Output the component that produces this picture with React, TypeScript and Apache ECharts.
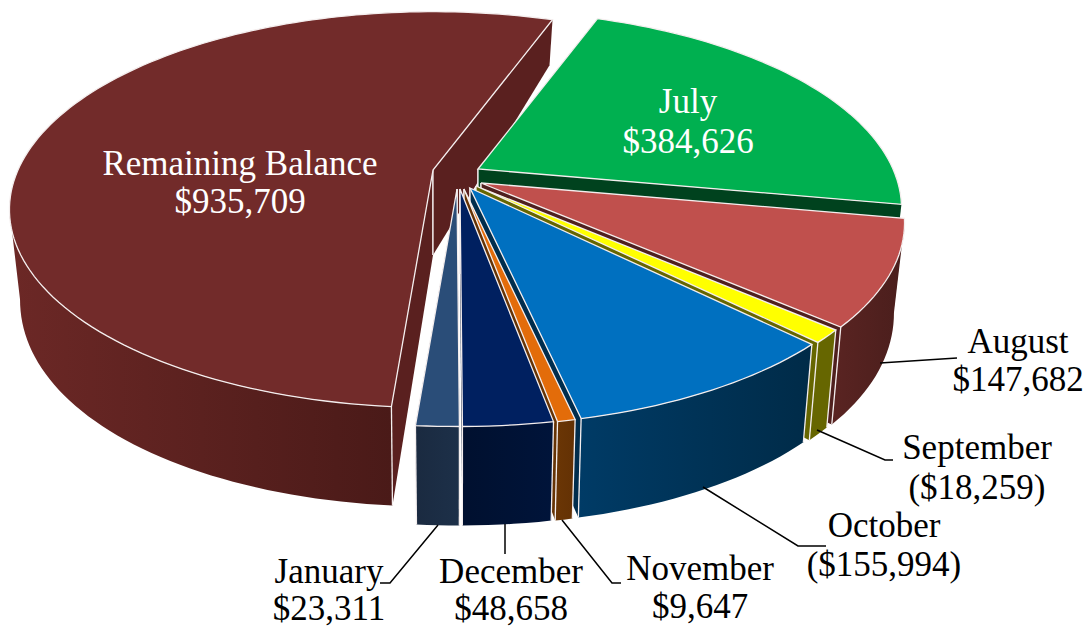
import React, { useEffect, useRef } from "react";
import * as echarts from "echarts";

// ---- data (clockwise, starting at the first slice drawn) ----
const categories = ["Remaining Balance", "July", "August", "September", "October", "November", "December", "January"];
const sliceValues = [935709, 384626, 147682, 18259, 155994, 9647, 48658, 23311];
const valueLabels = ["$935,709", "$384,626", "$147,682", "($18,259)", "($155,994)", "$9,647", "$48,658", "$23,311"];

// ---- styles & layout ----
const topColors = ["#722B2A", "#00B050", "#C0504D", "#FFFF00", "#0070C0", "#E36C0A", "#002060", "#2A4D78"];
const faceColors = ["#5A201F", "#00421E", "#4F201E", "#666600", "#002D4D", "#663304", "#00102F", "#1A2A40"];
const wallLeft = ["#6C2826", "#00421E", "#5A2422", "#666600", "#003B66", "#6B3605", "#00102F", "#1A2A40"];
const wallRight = ["#4A1A18", "#00421E", "#4A1E1C", "#666600", "#002B48", "#633104", "#00143A", "#1D3049"];
const sliceOffsets = [
  [433, 170], [478, 169], [481, 183], [476, 186], [470, 188], [464, 189], [460, 189], [457, 189],
];
const START_DEG = 184.6;
const RX = 415, RY = 190, PERSP = 0.2;
const BOTTOM_SHRINK = 0.975;
const WALL_FROM = 101.5, WALL_TO = 258.5; // where the rim is widest on screen
const wallHeight = (v: number) => 85 + 28.4 * v - 14.4 * v * v;

const total = sliceValues.reduce((a, b) => a + b, 0);
const rad = (d: number) => (d * Math.PI) / 180;

function renderSlice(params: any, api: any) {
  const i = params.dataIndex;
  const value = api.value(0);
  let before = 0;
  for (let k = 0; k < i; k++) before += sliceValues[k];
  let a0 = START_DEG + (before / total) * 360;
  if (a0 >= 360) a0 -= 360;
  const a1 = a0 + (value / total) * 360;
  const [ax, ay] = sliceOffsets[i];

  const rim = (deg: number) => {
    const u = Math.sin(rad(deg));
    const v = -Math.cos(rad(deg));
    const s = 1 / (1 - PERSP * v);
    return { x: ax + RX * u * s, y: ay + RY * v * s, v };
  };
  const low = (deg: number) => {
    const p = rim(deg);
    return [ax + (p.x - ax) * BOTTOM_SHRINK, p.y + wallHeight(p.v)];
  };
  const arc = (from: number, to: number, f: (d: number) => number[]) => {
    const n = Math.max(2, Math.ceil(Math.abs(to - from) / 1.5));
    const out: number[][] = [];
    for (let k = 0; k <= n; k++) out.push(f(from + ((to - from) * k) / n));
    return out;
  };
  const rimPt = (d: number) => { const p = rim(d); return [p.x, p.y]; };
  const apex = [ax, ay];
  const apexLow = [ax, ay + wallHeight(0)];
  const white = { stroke: "#f4eeee", lineWidth: 1.3 };
  const children: any[] = [];

  const face = (deg: number) => {
    children.push({
      type: "polygon",
      shape: { points: [apex, rimPt(deg), low(deg), apexLow] },
      style: { fill: faceColors[i] },
    });
    children.push({
      type: "polyline",
      shape: { points: [apexLow, apex] },
      style: { fill: "none", ...white },
    });
  };
  face(a0);
  face(a1);

  // outer wall: only the part that turns to the viewer
  const w0 = Math.max(a0, WALL_FROM);
  const w1 = Math.min(a1, WALL_TO);
  if (w1 > w0) {
    children.push({
      type: "polygon",
      shape: { points: [...arc(w0, w1, rimPt), ...arc(w1, w0, low)] },
      style: {
        fill: new echarts.graphic.LinearGradient(0, 0, 1, 0, [
          { offset: 0, color: wallLeft[i] },
          { offset: 1, color: wallRight[i] },
        ]),
      },
    });
    [w0, w1].forEach((d) => {
      if (d === a0 || d === a1) {
        children.push({
          type: "polyline",
          shape: { points: [rimPt(d), low(d)] },
          style: { fill: "none", ...white },
        });
      }
    });
  }

  // top surface
  children.push({
    type: "polygon",
    shape: { points: [apex, ...arc(a0, a1, rimPt)] },
    style: { fill: topColors[i], ...white },
  });
  return { type: "group", children };
}

const FONT = "'Liberation Serif','Times New Roman',serif";
const FS = 35;
const labelPlaces = [
  { c: 0, x: 240, y1: 163, y2: 201, fill: "#ffffff" },
  { c: 1, x: 688, y1: 101, y2: 141, fill: "#ffffff" },
  { c: 2, x: 1018, y1: 341, y2: 379, fill: "#000000" },
  { c: 3, x: 977, y1: 447, y2: 487, fill: "#000000" },
  { c: 4, x: 884, y1: 525, y2: 564, fill: "#000000" },
  { c: 5, x: 700, y1: 568, y2: 606, fill: "#000000" },
  { c: 6, x: 511, y1: 571, y2: 608, fill: "#000000" },
  { c: 7, x: 329, y1: 571, y2: 608, fill: "#000000" },
];
const leaders = [
  [[880, 363], [957, 358]],
  [[817, 430], [885, 460], [893, 460]],
  [[703, 487], [798, 546], [826, 546]],
  [[562, 520], [612, 583], [621, 583]],
  [[505, 524], [505, 554]],
  [[438, 525], [390, 583], [380, 583]],
];

const textEl = (text: string, x: number, y: number, fill: string) => ({
  type: "text",
  z: 30,
  silent: true,
  x,
  y,
  style: {
    text,
    fill,
    fontFamily: FONT,
    fontSize: FS,
    lineHeight: 30,
    align: "center",
    verticalAlign: "middle",
  },
});

export default function App() {
  const ref = useRef<HTMLDivElement>(null);
  useEffect(() => {
    const chart = echarts.init(ref.current!, undefined, { renderer: "svg" });
    chart.setOption({
      animation: false,
      backgroundColor: "#ffffff",
      series: [
        {
          type: "custom",
          coordinateSystem: "none",
          renderItem: renderSlice,
          data: sliceValues.map((v, i) => ({ name: categories[i], value: [v] })),
          silent: true,
        },
      ],
      graphic: [
        ...leaders.map((pts) => ({
          type: "polyline",
          z: 20,
          silent: true,
          shape: { points: pts },
          style: { fill: "none", stroke: "#000", lineWidth: 1.5 },
        })),
        ...labelPlaces.flatMap((l) => [
          textEl(categories[l.c], l.x, l.y1, l.fill),
          textEl(valueLabels[l.c], l.x, l.y2, l.fill),
        ]),
      ],
    });
    return () => chart.dispose();
  }, []);
  return <div ref={ref} style={{ position: "fixed", left: 0, top: 0, width: 1089, height: 627 }} />;
}
